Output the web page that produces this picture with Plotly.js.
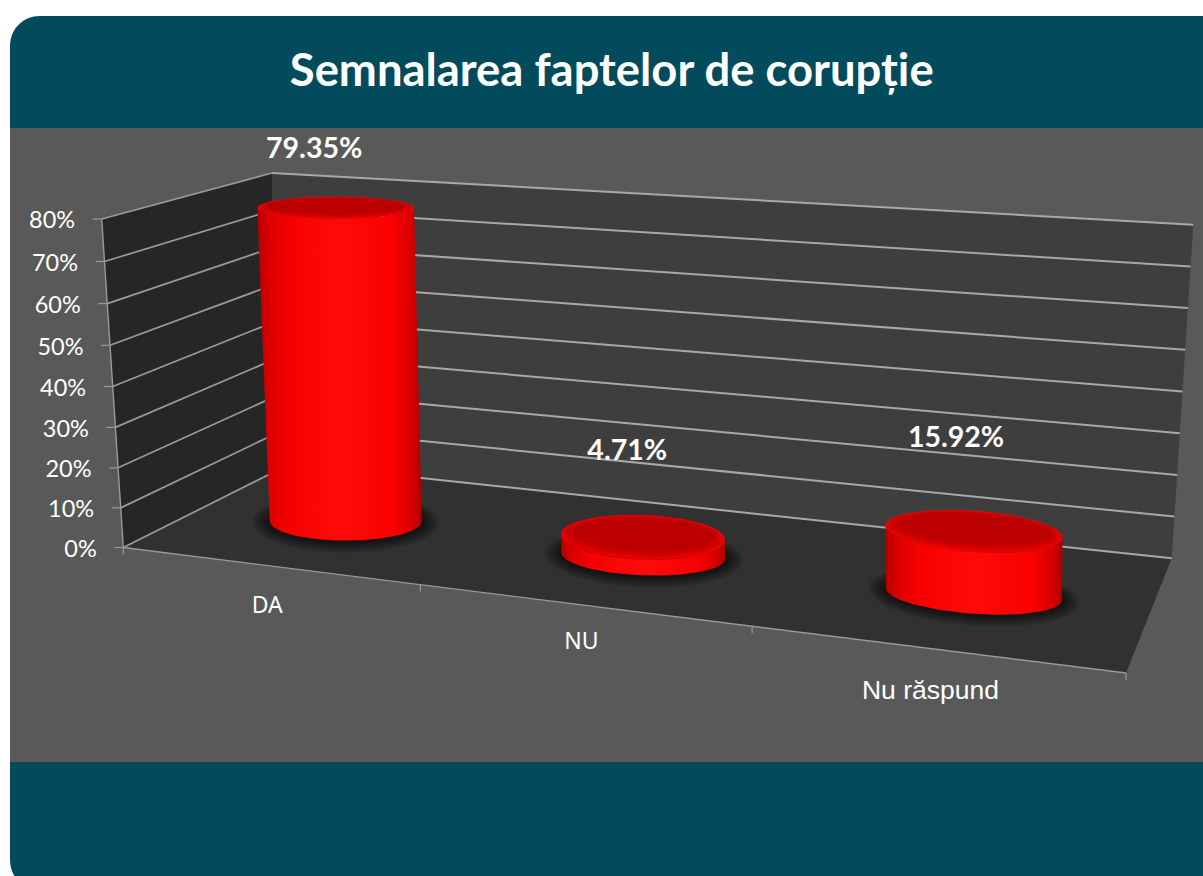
<!DOCTYPE html>
<html>
<head>
<meta charset="utf-8">
<script src="https://cdn.plot.ly/plotly-3.0.1.min.js"></script>
<style>html,body{margin:0;padding:0;background:#fff;overflow:hidden}#chart{width:1203px;height:876px}</style>
</head>
<body>
<div id="chart"></div>
<script>
// ---- data ----
const chartTitle = 'Semnalarea faptelor de corupție';
const categories = ['DA', 'NU', 'Nu răspund'];
const values = [79.35, 4.71, 15.92];
const gridValues = [0, 10, 20, 30, 40, 50, 60, 70, 80];
const tickLabels = ['0%', '10%', '20%', '30%', '40%', '50%', '60%', '70%', '80%'];

// ---- styles ----
const TEAL = '#024b5c', PANEL = '#595959', LEFT_WALL = '#262626', BACK_WALL = '#3e3e3e', FLOOR = '#313131';
const LINE_LEFT = '#9a9a9a', LINE_BACK = '#a8a8a8';
const BODY_SCALE = [[0,'#b40000'],[0.07,'#dc0000'],[0.2,'#f80000'],[0.5,'#ff0a0a'],[0.82,'#fb0000'],[0.94,'#d60000'],[1,'#ac0000']];

// ---- projection: a 3D chart box placed on the page ----
const FRONT_LEFT_TOP = [101.7, 219], FRONT_LEFT_BASE = [123.3, 547.5];
const BACK_LEFT_TOP = [272, 173], BACK_LEFT_BASE_SIDE = [276, 471], BACK_LEFT_BASE = [276, 462.5];
const BACK_RIGHT_TOP = [1193.3, 224.7], BACK_RIGHT_BASE = [1171.7, 558.3], FRONT_RIGHT_BASE = [1126, 673];
const VMAX = 80, PX_PER_UNIT = 3.95, BAR_DEPTH = 0.47, FRONT_WARP = 0.04;
const TICK_S = [0, 0.332, 0.665, 1];
const lerp = (a, b, t) => [a[0] + (b[0] - a[0]) * t, a[1] + (b[1] - a[1]) * t];

function homography(p00, p10, p11, p01) {
  const dx1 = p10[0]-p11[0], dx2 = p01[0]-p11[0], sx = p00[0]-p10[0]+p11[0]-p01[0];
  const dy1 = p10[1]-p11[1], dy2 = p01[1]-p11[1], sy = p00[1]-p10[1]+p11[1]-p01[1];
  const den = dx1*dy2 - dx2*dy1;
  const g = (sx*dy2 - dx2*sy)/den, h = (dx1*sy - sx*dy1)/den;
  const a = p10[0]-p00[0]+g*p10[0], b = p01[0]-p00[0]+h*p01[0], c = p00[0];
  const d = p10[1]-p00[1]+g*p10[1], e = p01[1]-p00[1]+h*p01[1], f = p00[1];
  return (s, t) => { const w = g*s+h*t+1; return [(a*s+b*t+c)/w, (d*s+e*t+f)/w]; };
}
const floorPoint = homography(FRONT_LEFT_BASE, FRONT_RIGHT_BASE, BACK_RIGHT_BASE, BACK_LEFT_BASE);
const frontLeft = v => { const u = v / VMAX; return lerp(FRONT_LEFT_BASE, FRONT_LEFT_TOP, u * (1 - FRONT_WARP) + FRONT_WARP * u * u); };
const backLeftSide = v => lerp(BACK_LEFT_BASE_SIDE, BACK_LEFT_TOP, v / VMAX);
const backLeft = v => lerp(BACK_LEFT_BASE, BACK_LEFT_TOP, v / VMAX);
const backRight = v => lerp(BACK_RIGHT_BASE, BACK_RIGHT_TOP, v / VMAX);

// ---- trace helpers ----
const traces = [];
function poly(pts, color, extra) {
  traces.push(Object.assign({type:'scatter', mode:'lines', x:pts.map(p=>p[0]), y:pts.map(p=>p[1]),
    fill:'toself', fillcolor:color, line:{width:0}, hoverinfo:'skip', showlegend:false}, extra||{}));
}
function lines(segs, color, width) {
  const x=[], y=[];
  segs.forEach(s => { s.forEach(p => { x.push(p[0]); y.push(p[1]); }); x.push(null); y.push(null); });
  traces.push({type:'scatter', mode:'lines', x, y, line:{color, width}, hoverinfo:'skip', showlegend:false});
}
function texts(pts, labels, pos, font) {
  traces.push({type:'scatter', mode:'text', x:pts.map(p=>p[0]), y:pts.map(p=>p[1]), text:labels,
    textposition:pos, textfont:font, hoverinfo:'skip', showlegend:false, cliponaxis:false});
}
function arc(c, rx, ry, k, a0, a1) {
  const out = [], n = 72;
  for (let i = 0; i <= n; i++) {
    const th = a0 + (a1 - a0) * i / n, cs = Math.cos(th), sn = Math.sin(th);
    out.push([c[0] + rx*cs, c[1] + rx*cs*k + ry*sn]);
  }
  return out;
}

// ---- walls and floor ----
poly([frontLeft(VMAX), backLeftSide(VMAX), backLeftSide(0), frontLeft(0)], LEFT_WALL);
poly([backLeft(VMAX), backRight(VMAX), backRight(0), backLeft(0)], BACK_WALL);
poly([FRONT_LEFT_BASE, BACK_LEFT_BASE_SIDE, BACK_LEFT_BASE, BACK_RIGHT_BASE, FRONT_RIGHT_BASE], FLOOR);

// ---- gridlines, box edges, ticks ----
lines(gridValues.map(v => [frontLeft(v), backLeftSide(v)]), LINE_LEFT, 1.7);
lines(gridValues.map(v => [backLeft(v), backRight(v)]), LINE_BACK, 2);
lines([gridValues.map(frontLeft), [FRONT_LEFT_BASE, FRONT_RIGHT_BASE]], LINE_LEFT, 1.4);
lines(gridValues.map(v => { const p = frontLeft(v); return [[p[0]-9, p[1]], p]; }), LINE_LEFT, 1.2);
lines(TICK_S.map(s => { const p = floorPoint(s, 0); return [p, [p[0], p[1]+7]]; }), LINE_LEFT, 1.2);

// ---- cylinders ----
const n = categories.length;
const baseCentres = categories.map((_, i) => {
  const s = (i + 0.5) / n, p = floorPoint(s, BAR_DEPTH);
  return [p[0] + 8 - 4 * s, p[1]];
});
const topCentres = values.map((v, i) => {
  const s = (i + 0.5) / n, lean = -0.16 + 0.2 * s;
  return [baseCentres[i][0] + lean * v, baseCentres[i][1] - PX_PER_UNIT * v];
});
const TOP_SHADES = [[1, 1, 0, '#f00000'], [0.985, 0.96, 0.015, '#e40000'], [0.965, 0.91, 0.04, '#d90000'],
                    [0.94, 0.86, 0.07, '#ce0000'], [0.91, 0.80, 0.10, '#c50000'], [0.87, 0.74, 0.13, '#bc0000']];
values.forEach((v, i) => {
  const s = (i + 0.5) / n, b = baseCentres[i], t = topCentres[i];
  const rxB = 73 + 18 * s, rxT = rxB + 0.03 * v, ryB = 19.5, ryT = 23 - 0.15 * v, k = 0.1 * s - 0.015;
  // soft shadow on the floor
  for (let j = 8; j >= 1; j--) {
    poly(arc([b[0], b[1] + 1], rxB + 2.2 * j, ryB + 1.4 * j, k, 0, 2 * Math.PI), 'rgba(0,0,0,0.09)');
  }
  // side wall
  const body = arc(b, rxB, ryB, k, Math.PI, 0).concat(arc(t, rxT, ryT, k, 0, Math.PI));
  poly(body, '#ff0000', {fillgradient:{type:'horizontal', colorscale:BODY_SCALE}});
  // top face, with a lighter rim
  TOP_SHADES.forEach(sh => poly(arc([t[0], t[1] - ryT * sh[2]], rxT * sh[0], ryT * sh[1], k, 0, 2*Math.PI), sh[3]));
});

// ---- text ----
const VALUE_OFFSETS = [[-21.5, -57], [-16, -84], [-18, -91]];
const CATEGORY_OFFSETS = [[-78.5, 86], [-62, 87], [-43.5, 98]];
texts(values.map((v, i) => [topCentres[i][0] + VALUE_OFFSETS[i][0], topCentres[i][1] + VALUE_OFFSETS[i][1]]),
      values.map(v => v.toFixed(2) + '%'), 'middle center',
      {family:'Lato, Carlito, sans-serif', size:28.5, color:'#ffffff', weight:700});
texts(gridValues.map(v => { const p = frontLeft(v); return [p[0] - 26.5, p[1] + 3.5]; }),
      tickLabels, 'middle left', {family:'Lato, sans-serif', size:23.5, color:'#ffffff'});
texts(baseCentres.slice(0, 2).map((c, i) => [c[0] + CATEGORY_OFFSETS[i][0], c[1] + CATEGORY_OFFSETS[i][1]]),
      categories.slice(0, 2), 'middle center', {family:'"Noto Sans", sans-serif', size:23, color:'#ffffff'});
texts([[baseCentres[2][0] + CATEGORY_OFFSETS[2][0], baseCentres[2][1] + CATEGORY_OFFSETS[2][1]]],
      categories.slice(2), 'middle center', {family:'"Liberation Sans", Arial, sans-serif', size:26.5, color:'#ffffff'});

// ---- layout ----
const layout = {
  width:1203, height:876, margin:{l:0,r:0,t:0,b:0}, paper_bgcolor:'#ffffff', plot_bgcolor:'rgba(0,0,0,0)',
  showlegend:false, dragmode:false,
  title:{text:'<b>'+chartTitle+'</b>', x:0.5085, xanchor:'center', y:0.92, yanchor:'middle', yref:'container',
    font:{family:'Lato, Carlito, sans-serif', size:45.4, color:'#ffffff'}},
  xaxis:{range:[0,1203], visible:false, fixedrange:true},
  yaxis:{range:[876,0], visible:false, fixedrange:true},
  shapes:[
    {type:'path', xref:'x', yref:'y', layer:'below', line:{width:0}, fillcolor:TEAL,
     path:'M 10 46 C 10 29 23 16 40 16 L 1240 16 L 1240 890 L 40 890 C 23 890 10 877 10 860 Z'},
    {type:'rect', xref:'x', yref:'y', layer:'below', line:{width:0}, fillcolor:PANEL, x0:10, x1:1203, y0:128, y1:762}
  ]
};
Plotly.newPlot('chart', traces, layout, {displayModeBar:false, staticPlot:true});
</script>
</body>
</html>
